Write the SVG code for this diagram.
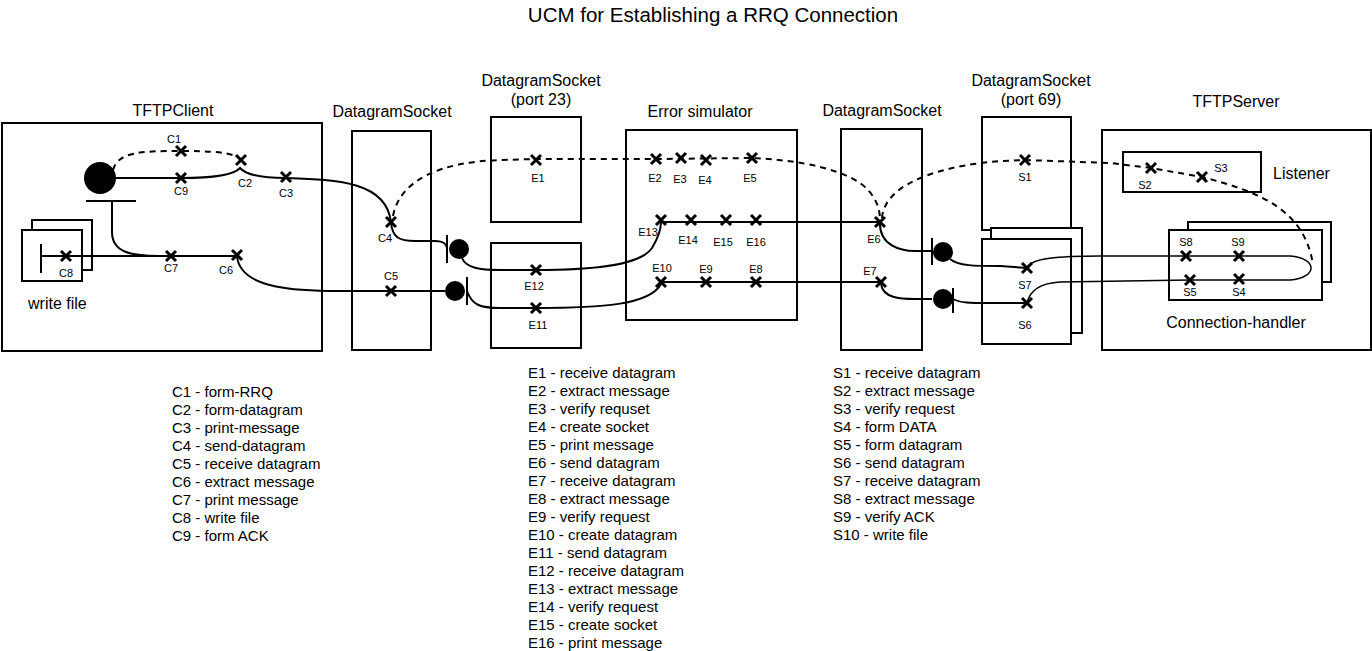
<svg xmlns="http://www.w3.org/2000/svg" xmlns:xlink="http://www.w3.org/1999/xlink" width="1372" height="651" viewBox="0 0 1372 651">
<style>
.box{fill:none;stroke:#000;stroke-width:2}
.boxw{fill:#fff;stroke:#000;stroke-width:2}
.path{fill:none;stroke:#000;stroke-width:2}
.thin{fill:none;stroke:#000;stroke-width:1.5}
.dash{fill:none;stroke:#000;stroke-width:2;stroke-dasharray:6 5}
.bar{stroke:#000;stroke-width:2}
text{font-family:"Liberation Sans",Arial,sans-serif;fill:#000}
.title{font-size:20.5px}
.lbl{font-size:16px}
.sm{font-size:11px}
.list{font-size:15px}
</style>
<defs>
<g id="x"><path d="M-5,-5L5,5M5,-5L-5,5" stroke="#000" stroke-width="3" fill="none"/></g>
</defs>
<rect width="1372" height="651" fill="#fff"/>
<text class="title" x="713" y="22" text-anchor="middle">UCM for Establishing a RRQ Connection</text>

<g id="tftpclient">
<rect class="box" x="2" y="123" width="320" height="228"/>
<text class="lbl" x="173" y="116" text-anchor="middle">TFTPClient</text>
<circle cx="100" cy="178" r="16" fill="#000"/>
<line class="bar" x1="86" y1="201" x2="136" y2="201"/>
</g>

<g id="writefile">
<rect class="boxw" x="32" y="220" width="60" height="50"/>
<rect class="boxw" x="22" y="230" width="60" height="51"/>
<line class="bar" x1="41" y1="244" x2="41" y2="273"/>
<text class="lbl" x="28" y="309">write file</text>
</g>

<g id="ds1">
<rect class="box" x="352" y="131" width="79" height="219"/>
<text class="lbl" x="392" y="117" text-anchor="middle">DatagramSocket</text>
</g>

<g id="ds23">
<rect class="box" x="491" y="117" width="90" height="105"/>
<rect class="box" x="491" y="243" width="90" height="105"/>
<text class="lbl" x="541" y="86" text-anchor="middle">DatagramSocket</text>
<text class="lbl" x="541" y="105" text-anchor="middle">(port 23)</text>
</g>

<g id="errorsim">
<rect class="box" x="626" y="130" width="171" height="190"/>
<text class="lbl" x="700" y="117" text-anchor="middle">Error simulator</text>
</g>

<g id="ds2">
<rect class="box" x="841" y="129" width="81" height="221"/>
<text class="lbl" x="882" y="116" text-anchor="middle">DatagramSocket</text>
</g>

<g id="ds69">
<rect class="box" x="982" y="117" width="89" height="113"/>
<rect class="boxw" x="991" y="228" width="91" height="105"/>
<rect class="boxw" x="982" y="239" width="89" height="105"/>
<text class="lbl" x="1031" y="86" text-anchor="middle">DatagramSocket</text>
<text class="lbl" x="1031" y="105" text-anchor="middle">(port 69)</text>
</g>

<g id="tftpserver">
<rect class="box" x="1102" y="130" width="269" height="220"/>
<text class="lbl" x="1236" y="107" text-anchor="middle">TFTPServer</text>
</g>

<g id="listener">
<rect class="box" x="1123" y="152" width="138" height="40"/>
<text class="lbl" x="1273" y="179">Listener</text>
</g>

<g id="connhandler">
<rect class="boxw" x="1188" y="222" width="143" height="60"/>
<rect class="boxw" x="1169" y="230" width="153" height="70"/>
<text class="lbl" x="1236" y="328" text-anchor="middle">Connection-handler</text>
</g>

<g id="connectors">
<path class="dash" d="M113,170 C118,152 140,151 181,151 C210,151 235,152 241,160"/>
<path class="path" d="M116,178 L181,178 C215,178 234,175 240,168 C246,175 260,178 286,178 C340,180 386,182 391,222 C392,238 400,241 415,241 L435,241 C445,241 447,245 447,250"/>
<path class="path" d="M112,201 L112,232 C112,252 130,256 160,256 L171,256"/>
<path class="path" d="M41,256 L237,256"/>
<path class="path" d="M237,256 C240,290 300,291 340,291 L445,291"/>
<path class="dash" d="M393,216 C400,180 440,162 500,160 L536,159 L656,159 L752,158 C800,160 850,170 868,190 C877,200 880,210 880,220"/>
<path class="dash" d="M882,218 C885,180 950,165 1000,161 L1025,160 L1110,163 L1151,168 L1202,177 C1260,192 1305,210 1313,265"/>
<path class="path" d="M462,258 C466,268 480,270 500,270 L536,270 C590,270 640,266 652,248 C658,238 661,230 661,222 L880,222"/>
<path class="path" d="M467,291 C472,305 480,308 500,308 L536,308 C600,308 650,305 661,284 L661,282 L881,282"/>
<path class="path" d="M880,224 C880,245 900,251 915,251 L932,251"/>
<path class="path" d="M950,259 C958,266 975,266 1000,266 L1027,268"/>
<path class="path" d="M881,284 C883,298 900,299 915,299 L932,299"/>
<path class="path" d="M953,299 C960,303 970,303 990,303 L1027,303"/>
<path class="thin" d="M1027,268 C1030,258 1060,256 1100,256 L1290,256 C1318,258 1318,278 1290,280 L1190,280 L1060,282 C1040,283 1030,290 1027,303"/>
<line class="bar" x1="447" y1="235" x2="447" y2="263"/>
<circle cx="459" cy="249" r="10" fill="#000"/>
<circle cx="455" cy="291" r="10" fill="#000"/>
<line class="bar" x1="467" y1="277" x2="467" y2="305"/>
<line class="bar" x1="932" y1="238" x2="932" y2="265"/>
<circle cx="943" cy="252" r="10" fill="#000"/>
<circle cx="943" cy="299" r="10" fill="#000"/>
<line class="bar" x1="953" y1="288" x2="953" y2="313"/>
</g>

<g id="points">
<use xlink:href="#x" x="181" y="151"/><text class="sm" x="174" y="143" text-anchor="middle">C1</text>
<use xlink:href="#x" x="241" y="160"/><text class="sm" x="245" y="187" text-anchor="middle">C2</text>
<use xlink:href="#x" x="286" y="177"/><text class="sm" x="286" y="197" text-anchor="middle">C3</text>
<use xlink:href="#x" x="391" y="222"/><text class="sm" x="385" y="242" text-anchor="middle">C4</text>
<use xlink:href="#x" x="391" y="291"/><text class="sm" x="391" y="280" text-anchor="middle">C5</text>
<use xlink:href="#x" x="237" y="255"/><text class="sm" x="226" y="274" text-anchor="middle">C6</text>
<use xlink:href="#x" x="171" y="256"/><text class="sm" x="171" y="272" text-anchor="middle">C7</text>
<use xlink:href="#x" x="66" y="256"/><text class="sm" x="66" y="277" text-anchor="middle">C8</text>
<use xlink:href="#x" x="181" y="178"/><text class="sm" x="181" y="195" text-anchor="middle">C9</text>
<use xlink:href="#x" x="536" y="160"/><text class="sm" x="538" y="182" text-anchor="middle">E1</text>
<use xlink:href="#x" x="656" y="159"/><text class="sm" x="655" y="182" text-anchor="middle">E2</text>
<use xlink:href="#x" x="681" y="158"/><text class="sm" x="680" y="183" text-anchor="middle">E3</text>
<use xlink:href="#x" x="706" y="160"/><text class="sm" x="705" y="184" text-anchor="middle">E4</text>
<use xlink:href="#x" x="752" y="158"/><text class="sm" x="750" y="182" text-anchor="middle">E5</text>
<use xlink:href="#x" x="880" y="222"/><text class="sm" x="874" y="243" text-anchor="middle">E6</text>
<use xlink:href="#x" x="881" y="282"/><text class="sm" x="870" y="275" text-anchor="middle">E7</text>
<use xlink:href="#x" x="756" y="282"/><text class="sm" x="756" y="273" text-anchor="middle">E8</text>
<use xlink:href="#x" x="706" y="282"/><text class="sm" x="706" y="273" text-anchor="middle">E9</text>
<use xlink:href="#x" x="661" y="282"/><text class="sm" x="662" y="272" text-anchor="middle">E10</text>
<use xlink:href="#x" x="536" y="308"/><text class="sm" x="538" y="329" text-anchor="middle">E11</text>
<use xlink:href="#x" x="536" y="270"/><text class="sm" x="534" y="290" text-anchor="middle">E12</text>
<use xlink:href="#x" x="661" y="220"/><text class="sm" x="648" y="236" text-anchor="middle">E13</text>
<use xlink:href="#x" x="691" y="220"/><text class="sm" x="688" y="244" text-anchor="middle">E14</text>
<use xlink:href="#x" x="726" y="220"/><text class="sm" x="723" y="246" text-anchor="middle">E15</text>
<use xlink:href="#x" x="756" y="220"/><text class="sm" x="756" y="246" text-anchor="middle">E16</text>
<use xlink:href="#x" x="1025" y="160"/><text class="sm" x="1025" y="181" text-anchor="middle">S1</text>
<use xlink:href="#x" x="1151" y="168"/><text class="sm" x="1145" y="189" text-anchor="middle">S2</text>
<use xlink:href="#x" x="1202" y="177"/><text class="sm" x="1221" y="172" text-anchor="middle">S3</text>
<use xlink:href="#x" x="1239" y="279"/><text class="sm" x="1239" y="296" text-anchor="middle">S4</text>
<use xlink:href="#x" x="1190" y="280"/><text class="sm" x="1190" y="296" text-anchor="middle">S5</text>
<use xlink:href="#x" x="1027" y="303"/><text class="sm" x="1025" y="329" text-anchor="middle">S6</text>
<use xlink:href="#x" x="1027" y="268"/><text class="sm" x="1025" y="289" text-anchor="middle">S7</text>
<use xlink:href="#x" x="1186" y="256"/><text class="sm" x="1186" y="246" text-anchor="middle">S8</text>
<use xlink:href="#x" x="1239" y="256"/><text class="sm" x="1238" y="246" text-anchor="middle">S9</text>
</g>

<g id="legend-c">
<text class="list" x="172" y="397">C1 - form-RRQ</text>
<text class="list" x="172" y="415">C2 - form-datagram</text>
<text class="list" x="172" y="433">C3 - print-message</text>
<text class="list" x="172" y="451">C4 - send-datagram</text>
<text class="list" x="172" y="469">C5 - receive datagram</text>
<text class="list" x="172" y="487">C6 - extract message</text>
<text class="list" x="172" y="505">C7 - print message</text>
<text class="list" x="172" y="523">C8 - write file</text>
<text class="list" x="172" y="541">C9 - form ACK</text>
</g>
<g id="legend-e">
<text class="list" x="528" y="378">E1 - receive datagram</text>
<text class="list" x="528" y="396">E2 - extract message</text>
<text class="list" x="528" y="414">E3 - verify requset</text>
<text class="list" x="528" y="432">E4 - create socket</text>
<text class="list" x="528" y="450">E5 - print message</text>
<text class="list" x="528" y="468">E6 - send datagram</text>
<text class="list" x="528" y="486">E7 - receive datagram</text>
<text class="list" x="528" y="504">E8 - extract message</text>
<text class="list" x="528" y="522">E9 - verify request</text>
<text class="list" x="528" y="540">E10 - create datagram</text>
<text class="list" x="528" y="558">E11 - send datagram</text>
<text class="list" x="528" y="576">E12 - receive datagram</text>
<text class="list" x="528" y="594">E13 - extract message</text>
<text class="list" x="528" y="612">E14 - verify request</text>
<text class="list" x="528" y="630">E15 - create socket</text>
<text class="list" x="528" y="648">E16 - print message</text>
</g>
<g id="legend-s">
<text class="list" x="833" y="378">S1 - receive datagram</text>
<text class="list" x="833" y="396">S2 - extract message</text>
<text class="list" x="833" y="414">S3 - verify request</text>
<text class="list" x="833" y="432">S4 - form DATA</text>
<text class="list" x="833" y="450">S5 - form datagram</text>
<text class="list" x="833" y="468">S6 - send datagram</text>
<text class="list" x="833" y="486">S7 - receive datagram</text>
<text class="list" x="833" y="504">S8 - extract message</text>
<text class="list" x="833" y="522">S9 - verify ACK</text>
<text class="list" x="833" y="540">S10 - write file</text>
</g>
</svg>
